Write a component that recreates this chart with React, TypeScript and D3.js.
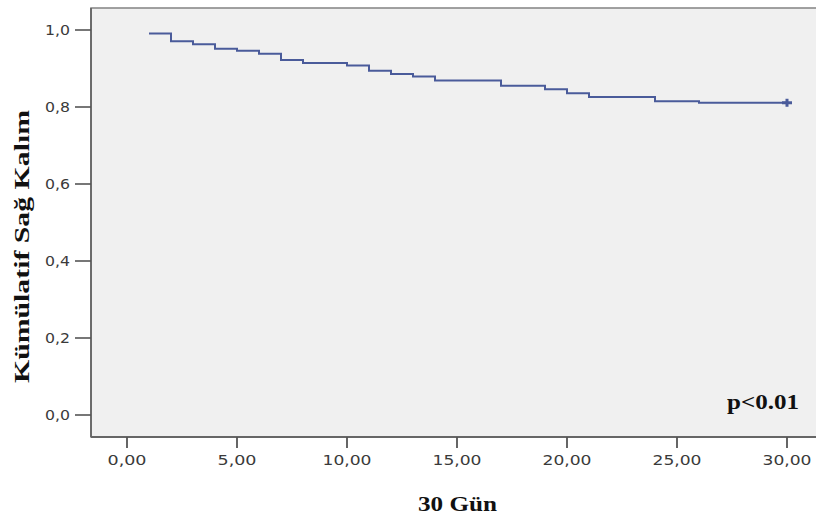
import React from 'react';
import * as d3 from 'd3';

// Kaplan-Meier basamakları (gün, kümülatif sağ kalım)
const eventDays = [1, 2, 3, 4, 5, 6, 7, 8, 10, 11, 12, 13, 14, 17, 19, 20, 21, 24, 26];
const survival = [0.991, 0.971, 0.963, 0.951, 0.946, 0.938, 0.922, 0.914, 0.908, 0.894, 0.886, 0.879, 0.869, 0.855, 0.846, 0.836, 0.826, 0.815, 0.811];
const censorDays = [30];
const endDay = 30;

const xTicks = [0, 5, 10, 15, 20, 25, 30];
const xTickLabels = ['0,00', '5,00', '10,00', '15,00', '20,00', '25,00', '30,00'];
const yTicks = [0, 0.2, 0.4, 0.6, 0.8, 1.0];
const yTickLabels = ['0,0', '0,2', '0,4', '0,6', '0,8', '1,0'];

const W = 816;
const H = 517;
const frame = { left: 91, top: 8, right: 822, bottom: 437 };

const App = () => {
  const x = d3.scaleLinear().domain([0, 30]).range([127, 787]);
  const y = d3.scaleLinear().domain([0, 1]).range([415, 30]);

  const pts: [number, number][] = eventDays.map((d, i) => [d, survival[i]]);
  pts.push([endDay, survival[survival.length - 1]]);

  const line = d3.line<[number, number]>()
    .x(d => x(d[0]))
    .y(d => y(d[1]))
    .curve(d3.curveStepAfter);

  const lastS = survival[survival.length - 1];
  const lineColor = '#4a5b9a';

  return (
    <svg width={W} height={H} style={{ position: 'absolute', left: 0, top: 0 }}>
      <rect x={0} y={0} width={W} height={H} fill="#ffffff" />
      {/* çizim alanı */}
      <rect x={frame.left} y={frame.top} width={frame.right - frame.left} height={frame.bottom - frame.top}
        fill="#f0f0f0" stroke="#8a8a8a" strokeWidth={1.6} />
      <line x1={frame.left} x2={frame.left} y1={frame.top} y2={frame.bottom} stroke="#666" strokeWidth={1.8} />
      <line x1={frame.left} x2={W} y1={frame.bottom} y2={frame.bottom} stroke="#666" strokeWidth={1.8} />

      {/* Y ekseni */}
      {yTicks.map((t, i) => (
        <g key={'y' + i}>
          <line x1={75} x2={frame.left} y1={y(t)} y2={y(t)} stroke="#555" strokeWidth={1.6} />
          <text x={70} y={y(t) + 5} textAnchor="end" fontFamily="DejaVu Sans" fontSize={13.5}
            fill="#3a3a3a" textLength={25} lengthAdjust="spacingAndGlyphs">{yTickLabels[i]}</text>
        </g>
      ))}

      {/* X ekseni */}
      {xTicks.map((t, i) => (
        <g key={'x' + i}>
          <line x1={x(t)} x2={x(t)} y1={frame.bottom} y2={448} stroke="#555" strokeWidth={1.8} />
          <text x={x(t)} y={465} textAnchor="middle" fontFamily="DejaVu Sans" fontSize={14}
            fill="#3a3a3a" textLength={xTickLabels[i].length === 4 ? 39 : 49} lengthAdjust="spacingAndGlyphs">{xTickLabels[i]}</text>
        </g>
      ))}

      {/* sağ kalım eğrisi */}
      <path d={line(pts) || ''} fill="none" stroke={lineColor} strokeWidth={2} />
      {censorDays.map((d, i) => (
        <g key={'c' + i} stroke={lineColor} strokeWidth={3}>
          <line x1={x(d) - 5} x2={x(d) + 5} y1={y(lastS)} y2={y(lastS)} />
          <line x1={x(d)} x2={x(d)} y1={y(lastS) - 4} y2={y(lastS) + 4} />
        </g>
      ))}

      <text x={727} y={409} fontFamily="Liberation Serif" fontWeight="bold" fontSize={21}
        fill="#111" textLength={72} lengthAdjust="spacingAndGlyphs">p&lt;0.01</text>

      <text x={418} y={511} fontFamily="Liberation Serif" fontWeight="bold" fontSize={22}
        fill="#111" textLength={79} lengthAdjust="spacingAndGlyphs">30 Gün</text>

      <text transform="translate(29,383) rotate(-90)" x={0} y={0} fontFamily="Liberation Serif"
        fontWeight="bold" fontSize={21} fill="#111" textLength={273} lengthAdjust="spacingAndGlyphs">Kümülatif Sağ Kalım</text>
    </svg>
  );
};

export default App;
